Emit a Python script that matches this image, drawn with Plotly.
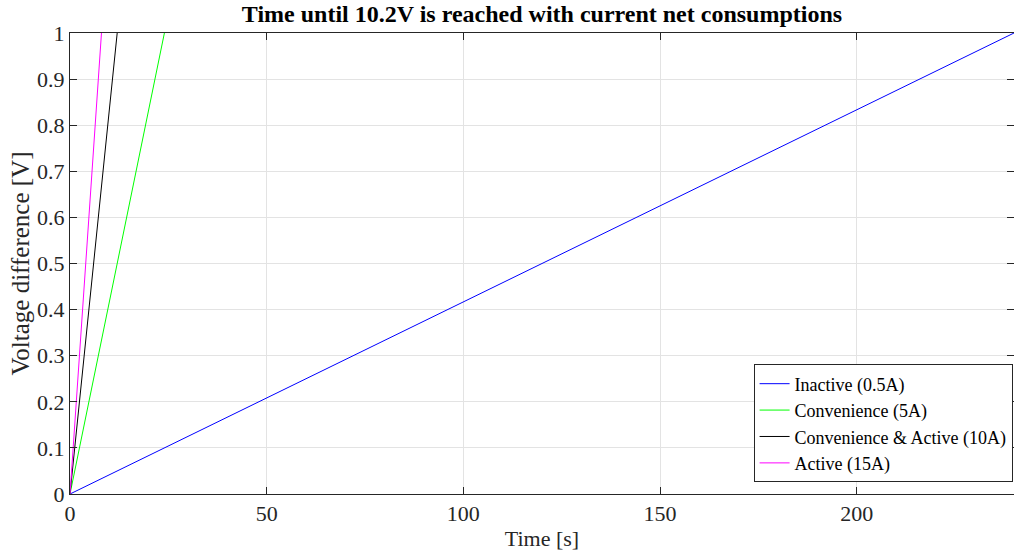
import plotly.graph_objects as go

# Time needed for the battery voltage to drop by 1 V (to 10.2V) per consumption mode
labels = ["Inactive (0.5A)", "Convenience (5A)", "Convenience & Active (10A)", "Active (15A)"]
end_times = [240, 24, 12, 8]          # seconds to reach a 1 V drop
voltage_start = [0, 0, 0, 0]
voltage_end = [1, 1, 1, 1]
colors = ["#0000ff", "#00ff00", "#000000", "#ff00ff"]

x_ticks = [0, 50, 100, 150, 200]
y_ticks = [0, 0.1, 0.2, 0.3, 0.4, 0.5, 0.6, 0.7, 0.8, 0.9, 1]
y_tick_text = ["0", "0.1", "0.2", "0.3", "0.4", "0.5", "0.6", "0.7", "0.8", "0.9", "1"]

font_family = "Liberation Serif, Times New Roman, serif"
axis_color = "#262626"

fig = go.Figure()
for name, t_end, v0, v1, c in zip(labels, end_times, voltage_start, voltage_end, colors):
    fig.add_trace(go.Scatter(
        x=[0, t_end], y=[v0, v1], mode="lines", name=name,
        line=dict(color=c, width=1),
    ))

axis_common = dict(
    showgrid=True, gridcolor="#e3e3e3", gridwidth=1,
    showline=True, linecolor=axis_color, linewidth=1, mirror="ticks",
    ticks="inside", ticklen=7, tickcolor=axis_color,
    zeroline=False,
    tickfont=dict(family=font_family, size=22, color=axis_color),
)

fig.update_layout(
    width=1014, height=556,
    margin=dict(l=70, r=0, t=33, b=62),
    paper_bgcolor="white", plot_bgcolor="white",
    title=dict(
        text="<b>Time until 10.2V is reached with current net consumptions</b>",
        xref="paper", x=0.5, xanchor="center", y=0.99, yanchor="top",
        font=dict(family=font_family, size=24, color="black"),
    ),
    xaxis=dict(
        range=[0, 240], tickvals=x_ticks,
        title=dict(text="Time [s]", font=dict(family=font_family, size=22, color=axis_color), standoff=5),
        **axis_common,
    ),
    yaxis=dict(
        range=[0, 1], tickvals=y_ticks, ticktext=y_tick_text,
        title=dict(text="Voltage difference [V]", font=dict(family=font_family, size=25, color=axis_color), standoff=0),
        **axis_common,
    ),
    legend=dict(
        x=0.9985, y=0.025, xanchor="right", yanchor="bottom",
        bgcolor="white", bordercolor=axis_color, borderwidth=1,
        font=dict(family=font_family, size=18, color="black"),
        tracegroupgap=0, itemwidth=30,
    ),
    showlegend=True,
)

fig.write_html("out.html")
